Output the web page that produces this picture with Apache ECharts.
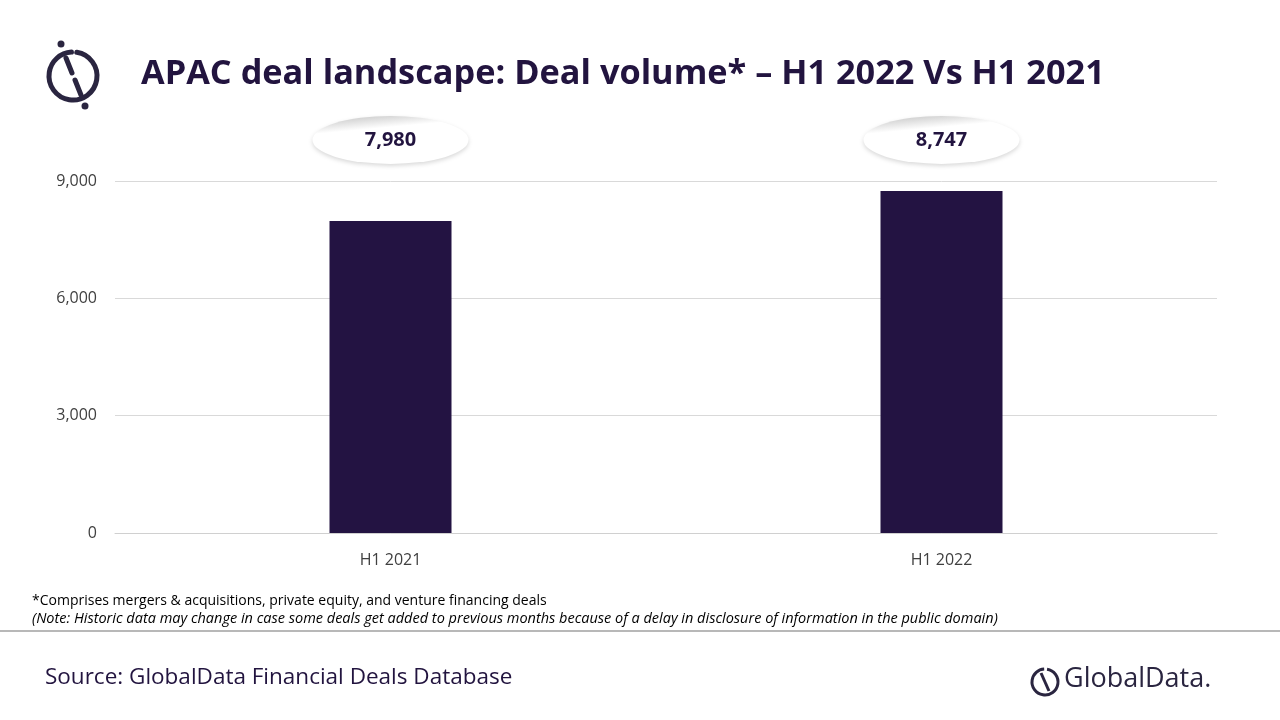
<!DOCTYPE html>
<html><head><meta charset="utf-8">
<script src="https://cdn.jsdelivr.net/npm/echarts@6/dist/echarts.min.js"></script>
<style>html,body{margin:0;padding:0;background:#fff}#c{width:1280px;height:720px}</style>
</head><body><div id="c"></div>
<script>
const categories = ['H1 2021', 'H1 2022'];
const dealVolume = [7980, 8747];
const bubbleLevel = 10050;
const chart = echarts.init(document.getElementById('c'));
const F = '"Open Sans", "Noto Sans", sans-serif';
chart.setOption({
  backgroundColor: '#fff',
  animation: false,
  title: {text: 'APAC deal landscape: Deal volume* – H1 2022 Vs H1 2021', left: 136, top: 52,
    textStyle: {fontFamily: F, fontSize: 34.3, fontWeight: 'bold', color: '#22143f'}},
  grid: {left: 115, right: 63, top: 181, bottom: 187},
  xAxis: {type: 'category', data: categories,
    axisLine: {lineStyle: {color: '#d0d0d0'}}, axisTick: {show: false},
    axisLabel: {fontFamily: F, fontSize: 16, color: '#404040', margin: 19}},
  yAxis: {type: 'value', min: 0, max: 9000, interval: 3000,
    axisLabel: {fontFamily: F, fontSize: 16, color: '#404040', margin: 18,
      formatter: v => v.toLocaleString('en-US')},
    splitLine: {lineStyle: {color: '#d9d9d9'}}},
  series: [
    {type: 'bar', data: dealVolume, barWidth: 122, itemStyle: {color: '#231342'}},
    {type: 'scatter', data: dealVolume.map((v, i) => ({value: [categories[i], bubbleLevel], raw: v})),
      clip: false, symbol: 'circle', symbolSize: [156, 48], emphasis: {disabled: true},
      itemStyle: {opacity: 1, color: {type: 'linear', x: 0, y: 0, x2: 0.3, y2: 1,
        colorStops: [{offset: 0, color: '#bdbdbd'}, {offset: 0.35, color: '#ffffff'}, {offset: 1, color: '#ffffff'}]},
        shadowColor: 'rgba(0,0,0,0.15)', shadowBlur: 4, shadowOffsetX: 0, shadowOffsetY: 2},
      label: {show: true, position: 'inside', formatter: p => p.data.raw.toLocaleString('en-US'),
        fontFamily: F, fontSize: 20, fontWeight: 'bold', color: '#22143f'}}
  ],
  graphic: [
    {type: 'arc', shape: {cx: 73, cy: 76, r: 24, startAngle: -Math.PI*0.45, endAngle: Math.PI*1.48},
      style: {stroke: '#2a2540', lineWidth: 5, fill: null, lineCap: 'round'}},
    {type: 'line', shape: {x1: 66, y1: 58, x2: 72, y2: 73}, style: {stroke: '#2a2540', lineWidth: 5, lineCap: 'round'}},
    {type: 'line', shape: {x1: 75, y1: 80, x2: 81, y2: 95}, style: {stroke: '#2a2540', lineWidth: 5, lineCap: 'round'}},
    {type: 'circle', shape: {cx: 61, cy: 44, r: 3.5}, style: {fill: '#2a2540'}},
    {type: 'circle', shape: {cx: 85, cy: 106, r: 3.5}, style: {fill: '#2a2540'}},
    {type: 'text', left: 32, top: 594, style: {text: '*Comprises mergers & acquisitions, private equity, and venture financing deals',
      font: '14px ' + F, fill: '#000'}},
    {type: 'text', left: 32, top: 611, style: {text: '(Note: Historic data may change in case some deals get added to previous months because of a delay in disclosure of information in the public domain)',
      font: 'italic 14.5px ' + F, fill: '#000'}},
    {type: 'line', shape: {x1: 0, y1: 631, x2: 1280, y2: 631}, style: {stroke: '#a0a0a0', lineWidth: 1.5}},
    {type: 'text', left: 45, top: 666, style: {text: 'Source: GlobalData Financial Deals Database', font: '22.5px ' + F, fill: '#22143f'}},
    {type: 'arc', shape: {cx: 1045, cy: 682, r: 13, startAngle: -Math.PI*0.45, endAngle: Math.PI*1.48},
      style: {stroke: '#2a2540', lineWidth: 3, fill: null}},
    {type: 'line', shape: {x1: 1041, y1: 673, x2: 1049, y2: 691}, style: {stroke: '#2a2540', lineWidth: 3}},
    {type: 'text', left: 1064, top: 666, style: {text: 'GlobalData.', font: '27px ' + F, fill: '#2a2540'}}
  ]
});
</script></body></html>
